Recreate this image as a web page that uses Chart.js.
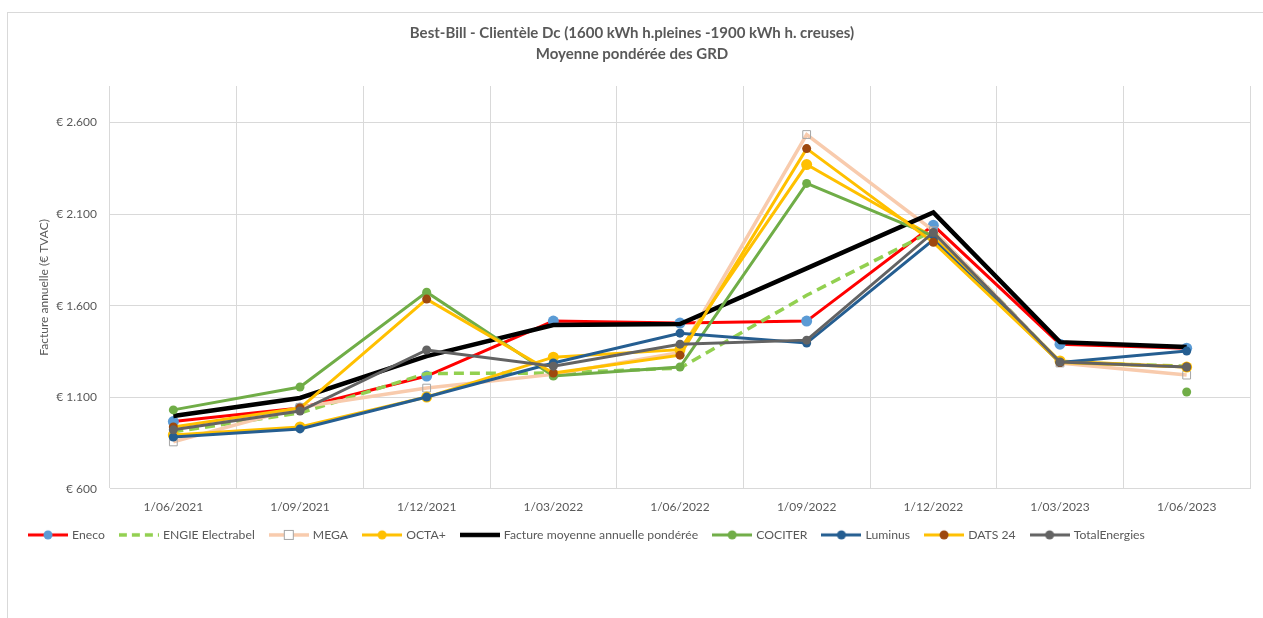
<!DOCTYPE html>
<html>
<head>
<meta charset="utf-8">
<script src="https://cdn.jsdelivr.net/npm/chart.js@4.4.1/dist/chart.umd.min.js"></script>
<style>
    body { margin: 0; background: #fff; overflow: hidden; }
    #frame {
        position: absolute; left: 7px; top: 12px;
        width: 1400px; height: 700px;
        border: 1px solid #d9d9d9;
    }
    #wrap { position: absolute; left: 0; top: 0; width: 1263px; height: 618px; }
</style>
</head>
<body>
<div id="frame"></div>
<div id="wrap"><canvas id="billChart" width="1263" height="618"></canvas></div>
<script>
const categories = ["1/06/2021", "1/09/2021", "1/12/2021", "1/03/2022", "1/06/2022",
    "1/09/2022", "1/12/2022", "1/03/2023", "1/06/2023"];
const yTicks = [600, 1100, 1600, 2100, 2600];

const eneco = [967, 1041, 1216, 1516, 1505, 1516, 2039, 1390, 1368];
const engie = [911, 1014, 1230, 1232, 1259, 1657, 2010, 1290, 1270];
const mega = [856, 1045, 1150, 1225, 1345, 2535, 2010, 1287, 1221];
const octa = [894, 938, 1101, 1319, 1360, 2371, 1975, 1298, 1265];
const moyenne = [998, 1096, 1325, 1494, 1500, 1804, 2110, 1401, 1374];
const cociter = [1031, 1156, 1674, 1216, 1265, 2268, 1980, null, 1129];
const luminus = [883, 927, 1101, 1287, 1450, 1396, 1960, 1290, 1352];
const dats = [938, 1041, 1636, 1232, 1330, 2458, 1946, 1290, 1265];
const totalEnergies = [922, 1025, 1358, 1270, 1390, 1412, 2000, 1292, 1265];

const textColor = "#595959";
const gridColor = "#d9d9d9";

function formatEuro(value) {
    const s = String(Math.round(value)).replace(/\B(?=(\d{3})+(?!\d))/g, ".");
    return "€ " + s;
}

function makeSeries(label, data, color, opts = {}) {
    return {
        label,
        data,
        borderColor: color,
        backgroundColor: opts.pointColor || color,
        borderWidth: opts.width || 3,
        borderDash: opts.dash || [],
        pointRadius: opts.radius === undefined ? 4.5 : opts.radius,
        pointStyle: opts.pointStyle || "circle",
        pointBorderColor: opts.pointBorder || opts.pointColor || color,
        pointBackgroundColor: opts.pointFill || opts.pointColor || color,
        pointBorderWidth: opts.pointBorderWidth || 0,
        pointHoverRadius: opts.radius === undefined ? 4.5 : opts.radius,
        tension: 0,
        spanGaps: false,
        fill: false,
    };
}

const datasets = [
    makeSeries("Eneco", eneco, "#ff0000", { pointColor: "#5b9bd5", radius: 5.5 }),
    makeSeries("ENGIE Electrabel", engie, "#92d050", { dash: [10, 6], radius: 0, width: 3.5 }),
    makeSeries("MEGA", mega, "#f8cbad", {
        width: 3.5, pointStyle: "rect", radius: 5.5,
        pointBorder: "#a5a5a5", pointFill: "rgba(255,255,255,0)", pointBorderWidth: 1,
    }),
    makeSeries("OCTA+", octa, "#ffc000", { radius: 5.5 }),
    makeSeries("Facture moyenne annuelle pondérée", moyenne, "#000000", { radius: 0, width: 4.5 }),
    makeSeries("COCITER", cociter, "#70ad47", { radius: 4.5 }),
    makeSeries("Luminus", luminus, "#255e91", { radius: 4.5 }),
    makeSeries("DATS 24", dats, "#ffc000", { pointColor: "#9e480e", radius: 4.5 }),
    makeSeries("TotalEnergies", totalEnergies, "#636363", { radius: 4.5 }),
];

// later series on top, like the spreadsheet
datasets.forEach((ds, i) => { ds.order = -i; });

function legendIcon(ds) {
    const c = document.createElement("canvas");
    c.width = 40;
    c.height = 12;
    const g = c.getContext("2d");
    g.strokeStyle = ds.borderColor;
    g.lineWidth = ds.borderWidth;
    g.setLineDash(ds.borderDash.length ? [8, 5] : []);
    g.beginPath();
    g.moveTo(0, 6);
    g.lineTo(40, 6);
    g.stroke();
    g.setLineDash([]);
    if (ds.pointRadius > 0) {
        if (ds.pointStyle === "rect") {
            g.fillStyle = "#ffffff";
            g.fillRect(15.5, 1.5, 9, 9);
            g.strokeStyle = ds.pointBorderColor;
            g.lineWidth = 1;
            g.strokeRect(15.5, 1.5, 9, 9);
        } else {
            g.fillStyle = ds.pointBackgroundColor;
            g.beginPath();
            g.arc(20, 6, 4.5, 0, Math.PI * 2);
            g.fill();
        }
    }
    return c;
}

Chart.defaults.font.family = "Lato, 'Open Sans', sans-serif";
Chart.defaults.color = textColor;

const ctx = document.getElementById("billChart");
const billChart = new Chart(ctx, {
    type: "line",
    data: { labels: categories, datasets },
    options: {
        responsive: false,
        animation: false,
        events: [],
        layout: { padding: { left: 14, right: 13, top: 12, bottom: 67 } },
        plugins: {
            title: {
                display: true,
                text: ["Best-Bill - Clientèle Dc (1600 kWh h.pleines -1900 kWh h. creuses)",
                    "Moyenne pondérée des GRD"],
                color: textColor,
                font: { size: 15, weight: "bold", lineHeight: 21 / 15 },
                padding: { top: 10.5, bottom: 21.5 },
            },
            legend: {
                position: "bottom",
                align: "start",
                labels: {
                    usePointStyle: true,
                    pointStyleWidth: 36,
                    padding: 16,
                    color: textColor,
                    font: { size: 12.2 },
                    generateLabels(chart) {
                        return chart.data.datasets.map((ds, i) => ({
                            text: ds.label,
                            pointStyle: legendIcon(ds),
                            fillStyle: ds.borderColor,
                            strokeStyle: ds.borderColor,
                            lineWidth: 0,
                            hidden: !chart.isDatasetVisible(i),
                            datasetIndex: i,
                            fontColor: textColor,
                        }));
                    },
                },
            },
            tooltip: { enabled: false },
        },
        scales: {
            x: {
                type: "category",
                offset: true,
                grid: { offset: true, color: gridColor, drawTicks: false },
                border: { color: gridColor },
                ticks: { padding: 11, color: textColor, font: { size: 12 }, maxRotation: 0 },
                afterFit(scale) { scale.height = 24; },
            },
            y: {
                min: 600,
                max: 2800,
                grid: { color: gridColor, drawTicks: false },
                border: { display: false },
                ticks: {
                    padding: 13,
                    color: textColor,
                    font: { size: 12 },
                    callback: (v) => formatEuro(v),
                },
                afterBuildTicks(scale) {
                    scale.ticks = yTicks.map((v) => ({ value: v }));
                },
                afterFit(scale) { scale.width = 96; },
                title: {
                    display: true,
                    text: "Facture annuelle (€ TVAC)",
                    color: textColor,
                    font: { size: 12 },
                    padding: { top: 23, bottom: 0 },
                },
            },
        },
    },
});
</script>
</body>
</html>
